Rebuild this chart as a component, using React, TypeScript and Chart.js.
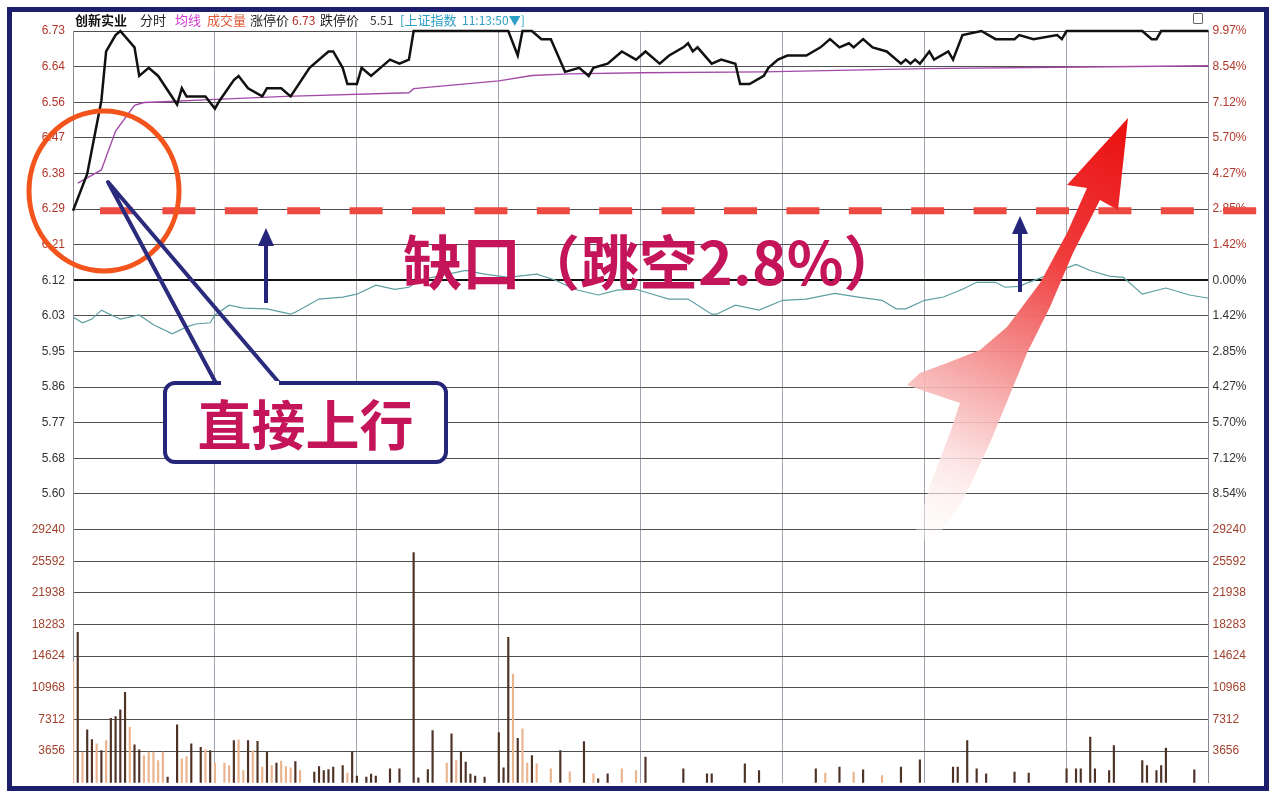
import { useEffect, useRef } from "react"
import { Chart, registerables } from "chart.js"

// Register Chart.js components
Chart.register(...registerables)

// ---- data (minutes from the open, 0..240) ----
const PRICE_MIN = [0, 3, 6, 7, 9, 10, 13, 14, 16, 18, 22, 23, 24, 26, 28, 30, 31, 34, 35, 37, 40, 41, 44, 46, 50, 54, 55, 57, 58, 60, 61, 63, 67, 69, 71, 72, 92, 94, 95, 97, 99, 101, 104, 107, 109, 110, 113, 116, 119, 121, 124, 126, 129, 130, 131, 132, 135, 137, 140, 141, 143, 146, 147, 149, 151, 155, 158, 160, 162, 164, 165, 167, 169, 172, 175, 176, 177, 178, 179, 181, 182, 185, 186, 188, 192, 195, 199, 200, 203, 208, 209, 210, 226, 228, 229, 230, 240]
const PRICE = [6.29, 6.38, 6.56, 6.68, 6.72, 6.73, 6.69, 6.62, 6.64, 6.62, 6.55, 6.59, 6.57, 6.57, 6.57, 6.54, 6.56, 6.61, 6.62, 6.59, 6.57, 6.59, 6.59, 6.57, 6.64, 6.68, 6.68, 6.64, 6.6, 6.6, 6.64, 6.62, 6.66, 6.65, 6.66, 6.73, 6.73, 6.67, 6.73, 6.73, 6.71, 6.71, 6.63, 6.64, 6.62, 6.64, 6.65, 6.68, 6.66, 6.68, 6.65, 6.67, 6.69, 6.7, 6.68, 6.69, 6.65, 6.66, 6.65, 6.6, 6.6, 6.62, 6.64, 6.66, 6.67, 6.67, 6.69, 6.71, 6.69, 6.7, 6.69, 6.71, 6.69, 6.68, 6.65, 6.66, 6.65, 6.66, 6.65, 6.68, 6.66, 6.68, 6.66, 6.72, 6.73, 6.71, 6.71, 6.72, 6.71, 6.72, 6.71, 6.73, 6.73, 6.71, 6.71, 6.73, 6.73]

const AVG_MIN = [1, 6, 9, 13, 15, 19, 29, 45, 71, 72, 90, 97, 105, 120, 146, 180, 214, 240]
const AVG = [6.358, 6.39, 6.485, 6.548, 6.555, 6.557, 6.562, 6.57, 6.579, 6.589, 6.608, 6.621, 6.625, 6.628, 6.63, 6.638, 6.642, 6.645]

// 上证指数 overlay, drawn on the price scale
const IDX_MIN = [0, 2, 4, 6, 9, 10, 14, 17, 21, 24, 26, 29, 30, 33, 36, 41, 46, 47, 52, 57, 60, 64, 68, 71, 73, 78, 83, 87, 92, 98, 102, 106, 111, 115, 119, 123, 126, 130, 135, 136, 140, 145, 150, 155, 161, 166, 171, 174, 176, 180, 184, 188, 191, 195, 197, 200, 202, 207, 212, 215, 219, 222, 226, 231, 236, 240]
const IDX = [6.03, 6.016, 6.025, 6.047, 6.03, 6.025, 6.035, 6.011, 5.989, 6.006, 6.013, 6.016, 6.035, 6.059, 6.052, 6.05, 6.037, 6.042, 6.074, 6.079, 6.086, 6.108, 6.098, 6.103, 6.12, 6.132, 6.144, 6.135, 6.127, 6.135, 6.12, 6.098, 6.084, 6.096, 6.098, 6.084, 6.074, 6.074, 6.037, 6.037, 6.059, 6.047, 6.071, 6.074, 6.088, 6.079, 6.071, 6.05, 6.05, 6.071, 6.079, 6.098, 6.115, 6.115, 6.103, 6.105, 6.115, 6.137, 6.159, 6.144, 6.13, 6.127, 6.086, 6.101, 6.084, 6.076]

// volume bars: dark and light
const VOL_UP_MIN = [1, 3, 4, 6, 8, 9, 10, 11, 13, 14, 20, 22, 25, 27, 29, 34, 37, 39, 41, 43, 47, 51, 52, 53, 54, 55, 57, 59, 60, 62, 63, 64, 67, 69, 72, 73, 75, 76, 80, 82, 83, 84, 85, 87, 90, 91, 92, 94, 97, 103, 108, 111, 113, 121, 129, 134, 135, 142, 145, 157, 162, 167, 175, 179, 186, 187, 189, 191, 193, 199, 202, 210, 212, 213, 215, 216, 219, 220, 226, 227, 229, 230, 231, 237]
const VOL_UP = [17375, 6110, 4995, 3730, 7460, 7650, 8420, 10450, 4380, 3800, 650, 6690, 4500, 4110, 3730, 4880, 4880, 4800, 3540, 2270, 2460, 1230, 1880, 1420, 1540, 1810, 2000, 3610, 770, 650, 1000, 770, 1610, 1610, 26600, 580, 1540, 6030, 5650, 3610, 2380, 1000, 770, 650, 5800, 1730, 16800, 5150, 3150, 3725, 4770, 460, 1040, 2960, 1610, 1040, 1040, 2190, 1420, 1610, 1810, 1500, 1810, 2650, 1810, 1810, 4880, 1610, 1040, 1230, 1115, 1610, 1610, 1610, 5270, 1610, 1420, 4300, 2570, 2000, 1420, 2000, 4000, 1500]
const VOL_DN_MIN = [0, 2, 5, 7, 12, 15, 16, 17, 18, 19, 23, 24, 28, 30, 32, 33, 35, 36, 38, 40, 42, 44, 45, 46, 48, 58, 79, 81, 93, 95, 96, 98, 101, 105, 110, 116, 119, 159, 165, 171]
const VOL_DN = [14000, 3540, 4500, 4880, 6420, 3150, 3540, 3540, 2575, 3540, 2770, 3035, 3800, 2270, 2270, 2000, 4960, 1420, 3730, 1810, 2000, 2500, 1880, 1730, 1420, 1115, 2270, 2575, 12570, 6230, 2270, 2200, 1610, 1270, 1040, 1610, 1420, 1115, 1230, 845]

// axis labels as printed
const PRICE_LABELS = ["6.73", "6.64", "6.56", "6.47", "6.38", "6.29", "6.21", "6.12", "6.03", "5.95", "5.86", "5.77", "5.68", "5.60"]
const PCT_LABELS = ["9.97%", "8.54%", "7.12%", "5.70%", "4.27%", "2.85%", "1.42%", "0.00%", "1.42%", "2.85%", "4.27%", "5.70%", "7.12%", "8.54%"]
const VOL_LABELS = ["29240", "25592", "21938", "18283", "14624", "10968", "7312", "3656"]

const PREV_CLOSE = 6.12
const LIMIT_UP = 6.73
const LIMIT_DOWN = 5.51
const LIMIT_PCT = 9.97
const VOL_MAX = 29248
const GAP_PRICE = 6.29

const RED_LABEL = "#b0382c"
const DARK_LABEL = "#333"
const NAVY = "#25257a"
const TEXT_RED = "#c4145a"

const annotations = {
  id: "annotations",
  afterDraw(chart: any) {
    const ctx = chart.ctx as CanvasRenderingContext2D
    const gapY = chart.scales.y.getPixelForValue(GAP_PRICE)
    ctx.save()

    // dashed gap line
    ctx.strokeStyle = "#ec4a40"
    ctx.lineWidth = 7
    ctx.setLineDash([33, 29.4])
    ctx.beginPath()
    ctx.moveTo(100, gapY)
    ctx.lineTo(1257, gapY)
    ctx.stroke()
    ctx.setLineDash([])

    // circle round the opening
    ctx.strokeStyle = "#f2541b"
    ctx.lineWidth = 5
    ctx.beginPath()
    ctx.ellipse(104, 191, 75, 80, 0, 0, Math.PI * 2)
    ctx.stroke()

    // small up arrows
    const upArrow = (x: number, top: number, bottom: number) => {
      ctx.strokeStyle = NAVY
      ctx.fillStyle = NAVY
      ctx.lineWidth = 4
      ctx.beginPath()
      ctx.moveTo(x, bottom)
      ctx.lineTo(x, top + 14)
      ctx.stroke()
      ctx.beginPath()
      ctx.moveTo(x, top)
      ctx.lineTo(x - 8, top + 18)
      ctx.lineTo(x + 8, top + 18)
      ctx.closePath()
      ctx.fill()
    }
    upArrow(266, 228, 303)
    upArrow(1020, 216, 292)

    // callout pointer
    ctx.strokeStyle = "#2b2b7e"
    ctx.lineWidth = 4
    ctx.lineJoin = "round"
    ctx.beginPath()
    ctx.moveTo(217, 385)
    ctx.lineTo(108, 182)
    ctx.lineTo(281, 385)
    ctx.stroke()

    // big red arrow
    const g = ctx.createLinearGradient(1110, 130, 915, 545)
    g.addColorStop(0, "#ea1414")
    g.addColorStop(0.3, "#f03c3c")
    g.addColorStop(0.55, "rgba(244,140,140,0.95)")
    g.addColorStop(0.8, "rgba(252,225,225,0.85)")
    g.addColorStop(1, "rgba(255,255,255,0.3)")
    ctx.fillStyle = g
    const pts = [
      [1128, 118], [1118, 210], [1100, 200], [1073, 253], [1050, 307], [1027, 353], [1013, 387],
      [990, 443], [963, 500], [940, 533], [913, 547], [908, 553], [917, 527], [933, 477],
      [950, 433], [960, 403], [930, 393], [907, 385], [920, 373], [947, 363], [980, 350],
      [1007, 327], [1040, 283], [1067, 233], [1087, 188], [1067, 185],
    ]
    ctx.beginPath()
    pts.forEach(([px, py], i) => (i === 0 ? ctx.moveTo(px, py) : ctx.lineTo(px, py)))
    ctx.closePath()
    ctx.fill()

    ctx.restore()
  },
}

const leftWidth = (s: any) => {
  s.width = 73
}
const rightWidth = (s: any) => {
  s.width = 71.5
}

export default function App() {
  const chartRef = useRef<HTMLCanvasElement>(null)
  const chartInstance = useRef<Chart | null>(null)

  useEffect(() => {
    if (!chartRef.current) return
    if (chartInstance.current) chartInstance.current.destroy()

    Chart.defaults.font.family = '"Liberation Sans", Arial, sans-serif'
    Chart.defaults.font.size = 12

    const priceStep = (LIMIT_UP - PREV_CLOSE) / 7
    const pctStep = LIMIT_PCT / 7
    const volStep = VOL_MAX / 8

    const ctx = chartRef.current.getContext("2d")
    if (!ctx) return
    chartInstance.current = new Chart(ctx, {
      type: "line",
      data: {
        datasets: [
          {
            label: "价格",
            data: PRICE_MIN.map((m, i) => ({ x: m, y: PRICE[i] })),
            borderColor: "#111",
            borderWidth: 2.5,
            pointRadius: 0,
            yAxisID: "y",
            order: 0,
            clip: 6,
          } as any,
          {
            label: "均线",
            data: AVG_MIN.map((m, i) => ({ x: m, y: AVG[i] })),
            borderColor: "#a24aa8",
            borderWidth: 1.4,
            pointRadius: 0,
            yAxisID: "y",
            order: 1,
          },
          {
            label: "上证指数",
            data: IDX_MIN.map((m, i) => ({ x: m, y: IDX[i] })),
            borderColor: "#5c9ea2",
            borderWidth: 1.2,
            pointRadius: 0,
            yAxisID: "y",
            order: 2,
          },
          {
            type: "bar",
            label: "成交量",
            data: VOL_UP_MIN.map((m, i) => ({ x: m, y: VOL_UP[i] })),
            backgroundColor: "#4e3226",
            barThickness: 1.5,
            grouped: false,
            yAxisID: "yv",
            order: 3,
          } as any,
          {
            type: "bar",
            label: "成交量2",
            data: VOL_DN_MIN.map((m, i) => ({ x: m, y: VOL_DN[i] })),
            backgroundColor: "#eab48e",
            barThickness: 1.5,
            grouped: false,
            yAxisID: "yv",
            order: 4,
          } as any,
        ],
      },
      options: {
        animation: false,
        responsive: false,
        events: [],
        layout: { autoPadding: false, padding: { top: 31, bottom: 8.5, left: 0, right: 0 } },
        plugins: { legend: { display: false }, tooltip: { enabled: false } },
        scales: {
          x: {
            type: "linear",
            min: 0,
            max: 240,
            offset: false,
            ticks: { display: false, stepSize: 30 },
            grid: { color: "#a2a2b0", lineWidth: 1, drawTicks: false, offset: false },
            border: { display: false },
            afterFit: (s: any) => {
              s.height = 0
            },
          },
          y: {
            type: "linear",
            position: "left",
            stack: "L",
            stackWeight: 503,
            weight: 2,
            min: LIMIT_DOWN,
            max: LIMIT_UP,
            afterBuildTicks: (s: any) => {
              s.ticks = PRICE_LABELS.map((_, i) => ({ value: LIMIT_UP - i * priceStep }))
            },
            ticks: {
              padding: 8,
              color: (c: any) => (c.index < 7 ? RED_LABEL : DARK_LABEL),
              callback: (_v: any, i: number) => PRICE_LABELS[i],
            },
            grid: {
              drawTicks: false,
              color: (c: any) => (c.index === 7 ? "#111" : "#505050"),
              lineWidth: (c: any) => (c.index === 7 ? 2 : 1),
            },
            border: { color: "#8a8a96" },
            afterFit: leftWidth,
          },
          yv: {
            type: "linear",
            position: "left",
            stack: "L",
            stackWeight: 255.5,
            weight: 1,
            min: 0,
            max: VOL_MAX,
            afterBuildTicks: (s: any) => {
              s.ticks = VOL_LABELS.map((_, i) => ({ value: VOL_MAX - i * volStep }))
            },
            ticks: {
              padding: 8,
              color: "#a0422e",
              callback: (_v: any, i: number) => VOL_LABELS[i],
            },
            grid: { drawTicks: false, color: "#505050", lineWidth: 1 },
            border: { color: "#8a8a96" },
            afterFit: leftWidth,
          },
          yp: {
            type: "linear",
            position: "right",
            stack: "R",
            stackWeight: 503,
            weight: 1,
            min: -LIMIT_PCT,
            max: LIMIT_PCT,
            afterBuildTicks: (s: any) => {
              s.ticks = PCT_LABELS.map((_, i) => ({ value: LIMIT_PCT - i * pctStep }))
            },
            ticks: {
              padding: 4,
              color: (c: any) => (c.index < 7 ? RED_LABEL : DARK_LABEL),
              callback: (_v: any, i: number) => PCT_LABELS[i],
            },
            grid: { display: false, drawTicks: false },
            border: { color: "#8a8a96" },
            afterFit: rightWidth,
          },
          yv2: {
            type: "linear",
            position: "right",
            stack: "R",
            stackWeight: 255.5,
            weight: 2,
            min: 0,
            max: VOL_MAX,
            afterBuildTicks: (s: any) => {
              s.ticks = VOL_LABELS.map((_, i) => ({ value: VOL_MAX - i * volStep }))
            },
            ticks: {
              padding: 4,
              color: "#a0422e",
              callback: (_v: any, i: number) => VOL_LABELS[i],
            },
            grid: { display: false, drawTicks: false },
            border: { color: "#8a8a96" },
            afterFit: rightWidth,
          },
        },
      } as any,
      plugins: [annotations],
    })

    return () => {
      if (chartInstance.current) {
        chartInstance.current.destroy()
        chartInstance.current = null
      }
    }
  }, [])

  const head = (left: number, text: string, color: string, bold = false, size = 13) => (
    <span
      style={{
        position: "absolute",
        left,
        top: 12,
        fontSize: size,
        lineHeight: "15px",
        color,
        fontWeight: bold ? 700 : 400,
        whiteSpace: "nowrap",
      }}
    >
      {text}
    </span>
  )

  return (
    <div
      style={{
        position: "absolute",
        left: 0,
        top: 0,
        width: 1280,
        height: 798,
        background: "#fff",
        overflow: "hidden",
        fontFamily: '"Noto Sans CJK SC", "Noto Sans", sans-serif',
      }}
    >
      <canvas ref={chartRef} width={1280} height={798} style={{ position: "absolute", left: 0, top: 0 }} />

      {/* frame */}
      <div
        style={{
          position: "absolute",
          left: 7,
          top: 7,
          width: 1262,
          height: 784,
          boxSizing: "border-box",
          border: "5px solid #1d1f6d",
          pointerEvents: "none",
        }}
      />

      {/* header line */}
      {head(75, "创新实业", "#111", true)}
      {head(140, "分时", "#222")}
      {head(175, "均线", "#d03cd0")}
      {head(207, "成交量", "#e05a38")}
      {head(250, "涨停价", "#222")}
      {head(292, "6.73", "#b02a20", false, 12)}
      {head(320, "跌停价", "#222")}
      {head(370, "5.51", "#333", false, 12)}
      {head(400, "[上证指数", "#2c9fc4")}
      {head(462, "11:13:50▼]", "#2c9fc4", false, 12)}
      <div
        style={{
          position: "absolute",
          left: 1193,
          top: 13,
          width: 8,
          height: 9,
          border: "1px solid #666",
          borderRadius: 1,
        }}
      />

      {/* gap caption */}
      <div
        style={{
          position: "absolute",
          left: 403,
          top: 230,
          fontSize: 59,
          lineHeight: "59px",
          fontWeight: 700,
          color: TEXT_RED,
          whiteSpace: "nowrap",
        }}
      >
        缺口（跳空2.8%）
      </div>

      {/* callout box */}
      <div
        style={{
          position: "absolute",
          left: 163,
          top: 381,
          width: 285,
          height: 83,
          boxSizing: "border-box",
          border: `4px solid ${NAVY}`,
          borderRadius: 12,
          background: "#fff",
          display: "flex",
          alignItems: "center",
          justifyContent: "center",
          color: TEXT_RED,
          fontSize: 54,
          fontWeight: 700,
          lineHeight: "54px",
          whiteSpace: "nowrap",
        }}
      >
        直接上行
      </div>
      <div style={{ position: "absolute", left: 221, top: 381, width: 58, height: 5, background: "#fff" }} />
    </div>
  )
}
